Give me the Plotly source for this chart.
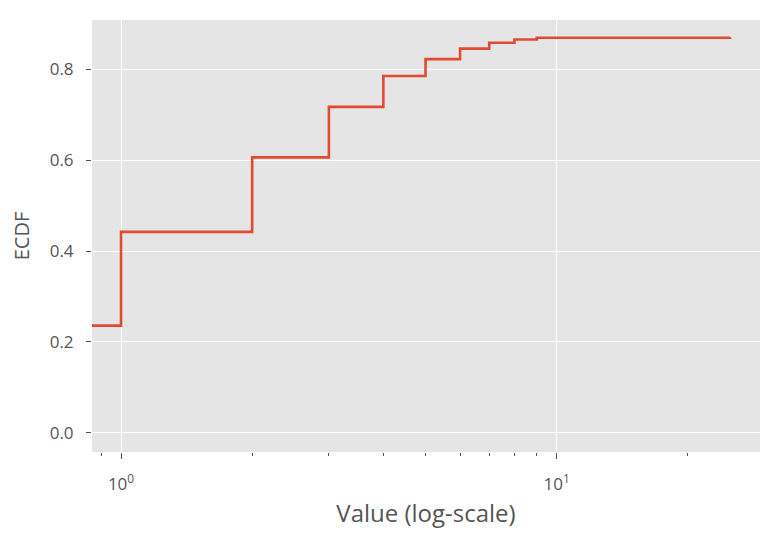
import plotly.graph_objects as go

# Data (value -> ECDF)
values = [0, 1, 2, 3, 4, 5, 6, 7, 8, 9, 25]
ecdf = [0.236, 0.442, 0.606, 0.717, 0.785, 0.822, 0.845, 0.858, 0.865, 0.869, 0.870]

major_ticks = [1, 10]
major_labels = ["10<sup>0</sup>", "10<sup>1</sup>"]
minor_ticks = [0.9, 2, 3, 4, 5, 6, 7, 8, 9, 20]
y_ticks = [0.0, 0.2, 0.4, 0.6, 0.8]

# zero cannot be shown on a log axis; push it off-range to the left
plot_x = [v if v > 0 else 1e-3 for v in values]

FONT = "Open Sans"
GREY = "#555555"

fig = go.Figure()
fig.add_trace(go.Scatter(
    x=plot_x, y=ecdf, mode="lines", line_shape="hv",
    line=dict(color="#E24A33", width=2.6), showlegend=False,
))

# page body has an 8px margin, so the figure is 8px smaller on each side
fig.update_layout(
    width=768, height=532,
    margin=dict(l=84, r=16, t=12, b=88),
    paper_bgcolor="white", plot_bgcolor="#E5E5E5",
    font=dict(family=FONT, color=GREY, size=17),
)
fig.update_xaxes(
    type="log", range=[-0.0666, 1.4666],
    tickvals=major_ticks, ticktext=major_labels,
    ticks="outside", ticklen=6, tickwidth=1, tickcolor=GREY,
    tickfont=dict(size=17, color=GREY), ticklabelstandoff=11,
    showgrid=True, gridcolor="white", gridwidth=1.3,
    minor=dict(tickvals=minor_ticks, ticks="outside", ticklen=3, tickcolor=GREY, showgrid=False),
    zeroline=False, showline=False,
    title=dict(text="Value (log-scale)", font=dict(size=24, color=GREY), standoff=10),
)
fig.update_yaxes(
    range=[-0.042, 0.908],
    tickvals=y_ticks, ticktext=["0.0", "0.2", "0.4", "0.6", "0.8"],
    ticks="outside", ticklen=5, tickwidth=1, tickcolor=GREY,
    tickfont=dict(size=17, color=GREY), ticklabelstandoff=9,
    showgrid=True, gridcolor="white", gridwidth=1.3,
    zeroline=False, showline=False,
    title=dict(text="ECDF", font=dict(size=20, color=GREY), standoff=17),
)

fig.write_html("out.html")
